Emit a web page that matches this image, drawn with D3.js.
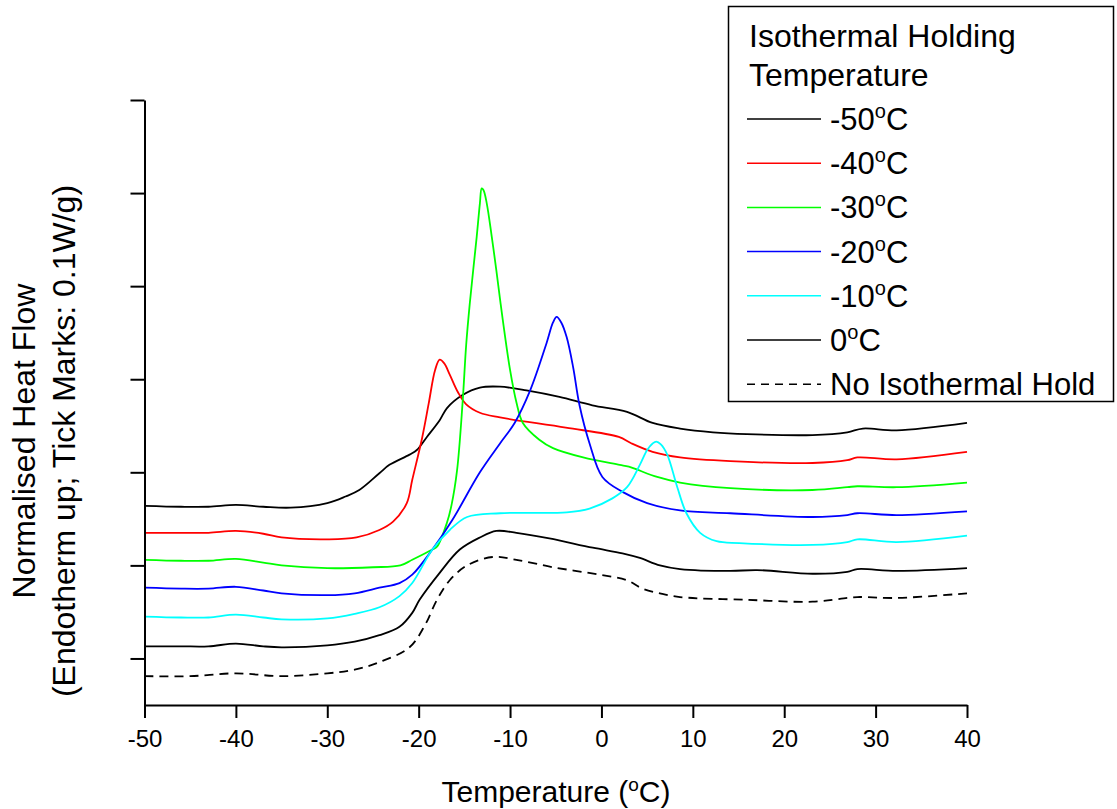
<!DOCTYPE html>
<html>
<head>
<meta charset="utf-8">
<script src="https://cdnjs.cloudflare.com/ajax/libs/d3/7.8.5/d3.min.js"></script>
<style>
	body { margin: 0; background: #fff; }
	svg { font-family: "Liberation Sans", Arial, sans-serif; }
</style>
</head>
<body>
<div id="chart"></div>
<script>
// heat flow curves, [temperature degC, normalised heat flow W/g] (offset, endotherm up)
var hold50 = [[-50,0.214],[-46,0.213],[-43,0.213],[-40,0.215],[-37,0.213],[-34,0.212],[-30,0.217],[-28,0.224],[-26.5,0.231],[-24.3,0.249],[-23.2,0.258],[-21.0,0.269],[-20.2,0.274],[-19.1,0.288],[-17.7,0.306],[-16.9,0.319],[-15.2,0.333],[-13.3,0.341],[-11.1,0.342],[-8.2,0.338],[-4.6,0.331],[-1,0.322],[2.8,0.315],[5.6,0.303],[8.6,0.297],[12.2,0.293],[15.9,0.291],[23.1,0.290],[26.9,0.293],[28.6,0.297],[32.3,0.295],[40,0.303]];
var hold40 = [[-50,0.185],[-46,0.185],[-43,0.185],[-40,0.187],[-37,0.184],[-35,0.180],[-30,0.178],[-26.8,0.180],[-24.3,0.188],[-22.8,0.197],[-21.3,0.217],[-20.7,0.242],[-19.6,0.288],[-18.9,0.324],[-18.2,0.360],[-17.7,0.371],[-17.2,0.367],[-16.6,0.355],[-15.7,0.336],[-14.8,0.323],[-13.3,0.314],[-11.1,0.309],[-3.9,0.298],[1.9,0.288],[3.3,0.281],[5.6,0.272],[8.6,0.266],[14.1,0.262],[23.1,0.260],[26.9,0.263],[28.0,0.266],[32.3,0.264],[40,0.272]];
var hold30 = [[-50,0.156],[-46,0.155],[-43,0.155],[-40,0.157],[-37,0.153],[-35,0.150],[-30,0.147],[-25,0.148],[-22,0.150],[-20.7,0.156],[-18.5,0.167],[-18.0,0.170],[-16.9,0.196],[-16.4,0.215],[-15.8,0.252],[-15.2,0.324],[-14.8,0.387],[-14.4,0.432],[-13.65,0.503],[-13.3,0.539],[-13.1,0.555],[-12.9,0.553],[-12.55,0.539],[-12.0,0.503],[-11.5,0.467],[-10.8,0.414],[-10.0,0.360],[-9.3,0.325],[-8.6,0.303],[-6.8,0.285],[-5.3,0.276],[-2.0,0.266],[2.0,0.258],[3.0,0.256],[6.1,0.245],[8.6,0.239],[14.1,0.233],[23.1,0.231],[26.9,0.234],[28.0,0.235],[32.3,0.234],[40,0.239]];
var hold20 = [[-50,0.126],[-46,0.125],[-43,0.125],[-40,0.127],[-37,0.123],[-35,0.120],[-30,0.118],[-27,0.120],[-24.3,0.126],[-22.1,0.131],[-20.7,0.140],[-18.5,0.167],[-16.3,0.199],[-13.3,0.250],[-11.1,0.281],[-9.5,0.303],[-7.8,0.338],[-6.0,0.389],[-5.3,0.411],[-4.9,0.417],[-4.4,0.411],[-3.8,0.395],[-3.1,0.363],[-2.4,0.322],[-1.3,0.281],[0.1,0.245],[2.3,0.229],[5.0,0.217],[8.6,0.209],[14.1,0.206],[23.1,0.202],[26.9,0.204],[28.0,0.206],[32.3,0.204],[40,0.208]];
var hold10 = [[-50,0.095],[-46,0.094],[-43,0.094],[-40,0.097],[-37,0.094],[-35,0.092],[-30,0.093],[-27,0.098],[-24.3,0.105],[-22.1,0.117],[-20.7,0.131],[-18.5,0.167],[-16.6,0.188],[-14.7,0.202],[-11.1,0.206],[-3.8,0.207],[-1.3,0.211],[1.2,0.222],[2.8,0.234],[4.2,0.258],[5.0,0.274],[5.6,0.281],[6.0,0.283],[6.5,0.280],[7.2,0.269],[8.3,0.234],[9.3,0.206],[10.8,0.185],[12.6,0.176],[15.1,0.174],[23.1,0.172],[26.9,0.175],[28.0,0.178],[32.3,0.175],[40,0.182]];
var hold0 = [[-50,0.063],[-46,0.063],[-43,0.063],[-40,0.066],[-37,0.063],[-35,0.062],[-30,0.064],[-27,0.068],[-24.3,0.075],[-22.1,0.084],[-20.7,0.099],[-19.9,0.113],[-17.7,0.142],[-15.5,0.167],[-13.3,0.180],[-11.5,0.187],[-9.3,0.185],[-5.7,0.179],[-0.95,0.169],[2.3,0.163],[4.2,0.158],[6.4,0.150],[8.6,0.146],[14.1,0.144],[17.0,0.145],[23.1,0.141],[26.9,0.143],[28.0,0.146],[32.3,0.144],[40,0.147]];
var noHold = [[-50,0.031],[-45,0.031],[-40,0.034],[-35,0.031],[-30,0.034],[-27,0.038],[-24.3,0.046],[-21.0,0.062],[-19.3,0.086],[-18.0,0.113],[-16.6,0.134],[-14.7,0.150],[-11.9,0.159],[-9.3,0.156],[-5.3,0.148],[-0.2,0.140],[2.8,0.134],[4.5,0.125],[6.4,0.120],[8.6,0.116],[15.9,0.113],[23.1,0.111],[26.9,0.115],[28.0,0.116],[32.3,0.115],[40,0.120]];

var series = [hold50, hold40, hold30, hold20, hold10, hold0, noHold];
var labels = ["-50", "-40", "-30", "-20", "-10", "0", "No Isothermal Hold"];
var colors = ["#000000", "#ff0000", "#00ff00", "#0000ff", "#00ffff", "#000000", "#000000"];
var xTicks = [-50, -40, -30, -20, -10, 0, 10, 20, 30, 40];
var yTicks = [0.05, 0.15, 0.25, 0.35, 0.45, 0.55, 0.65];

var width = 1117, height = 809;
var svg = d3.select("#chart").append("svg")
	.attr("width", width)
	.attr("height", height);

var x = d3.scaleLinear().domain([-50, 40]).range([144.5, 967]);
var y = d3.scaleLinear().domain([0, 0.65]).range([705, 100]);

var line = d3.line()
	.x(function(d) { return x(d[0]); })
	.y(function(d) { return y(d[1]); })
	.curve(d3.curveCatmullRom.alpha(0.5));

svg.selectAll("path.curve")
	.data(series)
	.enter().append("path")
	.attr("class", "curve")
	.attr("d", line)
	.attr("fill", "none")
	.attr("stroke", function(d, i) { return colors[i]; })
	.attr("stroke-width", 1.8)
	.attr("stroke-dasharray", function(d, i) { return i == 6 ? "9,6" : null; });

// axes
var xAxis = svg.append("g")
	.attr("transform", "translate(0,705)")
	.call(d3.axisBottom(x).tickValues(xTicks).tickSize(13).tickSizeOuter(0).tickPadding(12)
		.tickFormat(function(d) { return String(d); }));
xAxis.selectAll("text").attr("font-size", 24).attr("font-family", "Liberation Sans, Arial, sans-serif").attr("fill", "#000");

var yAxis = svg.append("g")
	.attr("transform", "translate(144.5,0)")
	.call(d3.axisLeft(y).tickValues(yTicks).tickSize(14).tickSizeOuter(0).tickFormat(""));

svg.selectAll(".domain, .tick line")
	.attr("stroke", "#000")
	.attr("stroke-width", 2);

// axis titles
var xt = svg.append("text")
	.attr("x", 556)
	.attr("y", 802)
	.attr("text-anchor", "middle")
	.attr("font-size", 30);
xt.append("tspan").text("Temperature (");
xt.append("tspan").attr("font-size", 19).attr("dy", -11).text("o");
xt.append("tspan").attr("dy", 11).text("C)");

var yt = svg.append("text")
	.attr("transform", "translate(35,441) rotate(-90)")
	.attr("text-anchor", "middle")
	.attr("font-size", 32);
yt.append("tspan").attr("x", 0).attr("y", 0).text("Normalised Heat Flow");
yt.append("tspan").attr("x", 0).attr("y", 40).text("(Endotherm up; Tick Marks: 0.1W/g)");

// legend
var legend = svg.append("g");
legend.append("rect")
	.attr("x", 728.5).attr("y", 6.5)
	.attr("width", 385).attr("height", 395)
	.attr("fill", "#fff")
	.attr("stroke", "#000")
	.attr("stroke-width", 1.5);
legend.append("text").attr("x", 749).attr("y", 47).attr("font-size", 32).text("Isothermal Holding");
legend.append("text").attr("x", 749).attr("y", 86).attr("font-size", 32).text("Temperature");

var rows = legend.selectAll("g.row")
	.data(labels)
	.enter().append("g")
	.attr("class", "row")
	.attr("transform", function(d, i) { return "translate(0," + (119 + i * 44.2) + ")"; });

rows.append("line")
	.attr("x1", 747).attr("x2", 821)
	.attr("stroke", function(d, i) { return colors[i]; })
	.attr("stroke-width", 1.5)
	.attr("stroke-dasharray", function(d, i) { return i == 6 ? "8,6" : null; });

rows.each(function(d, i) {
	var t = d3.select(this).append("text")
		.attr("x", 830).attr("y", 11)
		.attr("font-size", 31);
	if (i == 6) {
		t.text(d);
	} else {
		t.append("tspan").text(d);
		t.append("tspan").attr("font-size", 20).attr("dy", -12).text("o");
		t.append("tspan").attr("dy", 12).text("C");
	}
});
</script>
</body>
</html>
